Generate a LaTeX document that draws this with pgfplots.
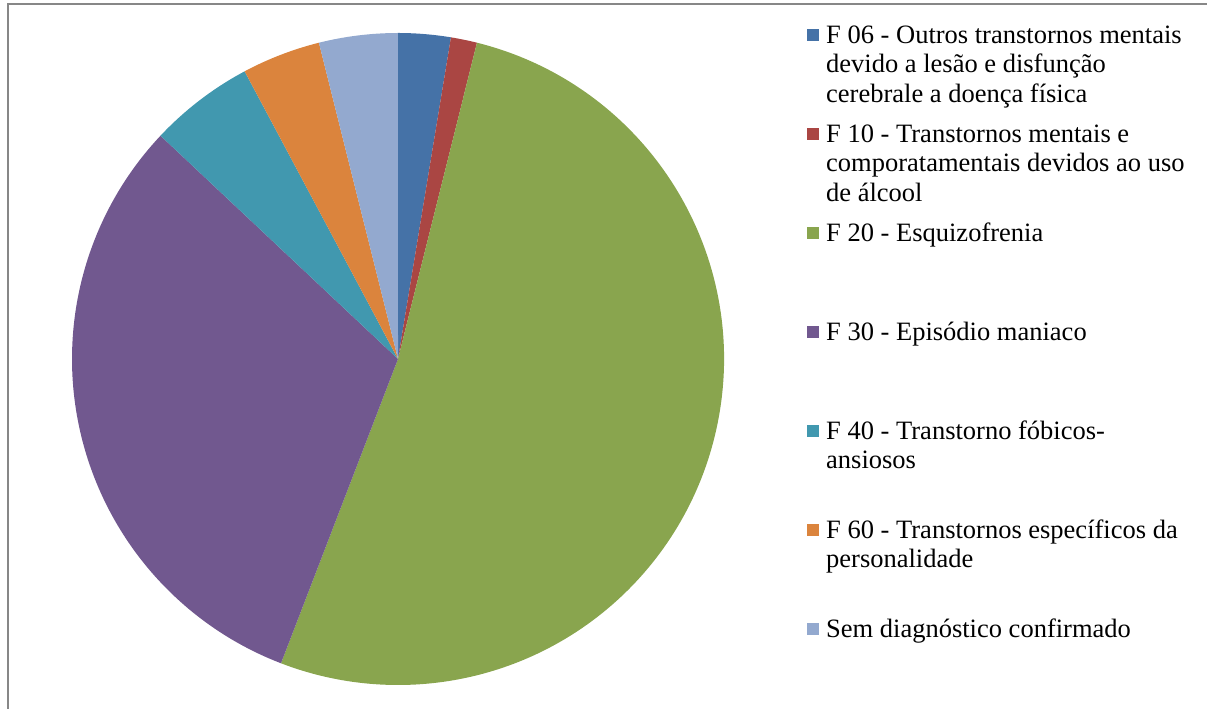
\documentclass[border=0pt]{standalone}
\usepackage{pgfplots}
\pgfplotsset{compat=1.18}
\usepackage{pgfplotstable}
\usepackage{fontspec}
\setmainfont{Liberation Serif}
\definecolor{c1}{HTML}{4572A7}
\definecolor{c2}{HTML}{AA4643}
\definecolor{c3}{HTML}{89A54E}
\definecolor{c4}{HTML}{71588F}
\definecolor{c5}{HTML}{4198AF}
\definecolor{c6}{HTML}{DB843D}
\definecolor{c7}{HTML}{93A9CF}
\definecolor{framegray}{HTML}{878787}

\pgfplotstableread{
cnt col
2 c1
1 c2
40 c3
24 c4
4 c5
3 c6
3 c7
}\piedata

\newcommand{\lentry}[1]{\parbox[t][99bp][t]{380bp}{\raggedright\strut #1}}

\begin{document}
\begin{tikzpicture}
\begin{axis}[
  width=1207bp, height=709bp, scale only axis, hide axis,
  xmin=0, xmax=1207, ymin=0, ymax=709, clip=false,
  legend style={at={(axis cs:807,686.65)}, anchor=north west, draw=none, fill=none,
    inner sep=0pt, row sep=0pt, font=\fontsize{26.5bp}{29.5bp}\selectfont,
    nodes={inner sep=0pt, text depth={}, text height={}}, cells={anchor=base west}},
  legend image code/.code={\fill[#1, draw=none] (0bp,2bp) rectangle (12bp,14bp); \path (19bp,0bp);},
]
\pgfplotstablegetrowsof{\piedata}
\pgfmathtruncatemacro{\nrows}{\pgfplotsretval-1}
\def\tot{0}
\pgfplotsforeachungrouped \i in {0,...,\nrows}{%
  \pgfplotstablegetelem{\i}{cnt}\of\piedata
  \pgfmathsetmacro{\tot}{\tot+\pgfplotsretval}%
}
\def\acc{90}
\pgfplotsforeachungrouped \i in {0,...,\nrows}{%
  \pgfplotstablegetelem{\i}{cnt}\of\piedata \let\v\pgfplotsretval
  \pgfplotstablegetelem{\i}{col}\of\piedata \let\cc\pgfplotsretval
  \pgfmathsetmacro{\en}{\acc-\v/\tot*360}%
  \edef\temp{\noexpand\fill[\cc] (axis cs:398,350) -- ++(\acc:326bp) arc[start angle=\acc, end angle=\en, radius=326bp] -- cycle;}%
  \temp
  \let\acc\en
}
\draw[framegray, line width=2bp] (axis cs:7.5,0) -- (axis cs:7.5,705) -- (axis cs:1207,705);

\addlegendimage{fill=c1, draw=none}
\addlegendentry{\lentry{F 06 - Outros transtornos mentais\newline devido a lesão e disfunção\newline cerebrale a doença física}}
\addlegendimage{fill=c2, draw=none}
\addlegendentry{\lentry{F 10 - Transtornos mentais e\newline comporatamentais devidos ao uso\newline de álcool}}
\addlegendimage{fill=c3, draw=none}
\addlegendentry{\lentry{F 20 - Esquizofrenia}}
\addlegendimage{fill=c4, draw=none}
\addlegendentry{\lentry{F 30 - Episódio maniaco}}
\addlegendimage{fill=c5, draw=none}
\addlegendentry{\lentry{F 40 - Transtorno fóbicos-\newline ansiosos}}
\addlegendimage{fill=c6, draw=none}
\addlegendentry{\lentry{F 60 - Transtornos específicos da\newline personalidade}}
\addlegendimage{fill=c7, draw=none}
\addlegendentry{\lentry{Sem diagnóstico confirmado}}
\end{axis}
\pgfresetboundingbox
\path[use as bounding box] (0,0) rectangle (1207bp,709bp);
\end{tikzpicture}
\end{document}
